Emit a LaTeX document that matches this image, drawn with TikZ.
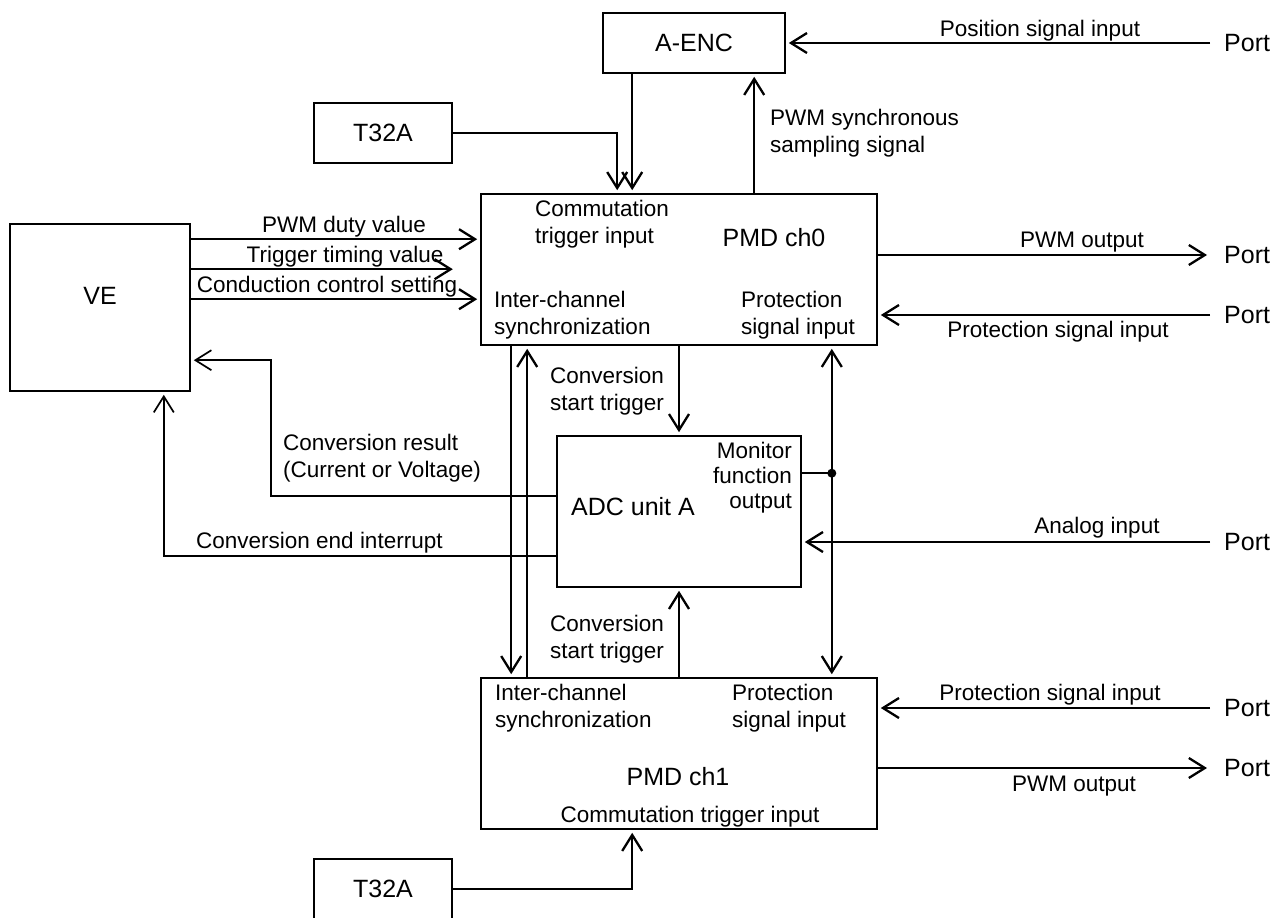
\documentclass[tikz,border=0pt]{standalone}
\usepackage{fontspec}
\setmainfont{Liberation Sans}
\usetikzlibrary{arrows.meta}

\tikzset{
  blk/.style={draw, line width=1.6pt, inner sep=0pt, font=\fontsize{25}{30}\selectfont},
  ttl/.style={inner sep=0pt, font=\fontsize{25}{30}\selectfont},
  lbl/.style={inner sep=0pt, font=\fontsize{22.5}{27}\selectfont},
  port/.style={anchor=west, inner xsep=14pt, inner ysep=0pt, font=\fontsize{25}{30}\selectfont},
  sig/.style={line width=2.3pt, shorten >=3pt, -{Straight Barb[length=16pt,width=20pt]}},
  bisig/.style={line width=2.3pt, shorten >=3pt, shorten <=3pt,
    {Straight Barb[length=16pt,width=20pt]}-{Straight Barb[length=16pt,width=20pt]}},
}

\begin{document}
\begin{tikzpicture}[x=1pt, y=-1pt]
	\useasboundingbox (0,0) rectangle (1274,918);

	% blocks
	\node[blk, minimum width=180pt, minimum height=167pt] (ve) at (100,307.5) {};
	\node[ttl] (vetxt) at (100,296) {VE};
	\node[blk, minimum width=182pt, minimum height=60pt] (aenc) at (694,43) {A-ENC};
	\node[blk, minimum width=138pt, minimum height=60pt] (tmra) at (383,133) {T32A};
	\node[blk, minimum width=138pt, minimum height=60pt] (tmrb) at (383,889) {T32A};
	\node[blk, minimum width=396pt, minimum height=151pt] (pmd0) at (679,269.5) {};
	\node[blk, minimum width=396pt, minimum height=151pt] (pmd1) at (679,753.5) {};
	\node[blk, minimum width=244pt, minimum height=151pt] (adc) at (679,511.5) {};

	\node[ttl] (pmd0txt) at (774,238) {PMD ch0};
	\node[ttl] (pmd1txt) at (678,777) {PMD ch1};
	\node[ttl] (adctxt) at (633,507) {ADC unit A};

	% texts inside the blocks (base = last line)
	\node[lbl, anchor=base west, align=left] (cti0) at (535,243) {Commutation\\trigger input};
	\node[lbl, anchor=base west, align=left] (ics0) at (494,334) {Inter-channel\\synchronization};
	\node[lbl, anchor=base west, align=left] (psi0) at (741,334) {Protection\\signal input};
	\node[lbl, anchor=base west, align=left] (ics1) at (495,727) {Inter-channel\\synchronization};
	\node[lbl, anchor=base west, align=left] (psi1) at (732,727) {Protection\\signal input};
	\node[lbl, anchor=base] (cti1) at (690,822) {Commutation trigger input};
	\node[lbl, anchor=base east, align=right, font=\fontsize{22.5}{25}\selectfont] (mon) at (792,508) {Monitor\\function\\output};

	% ports
	\node[port] (port0) at (1210,43) {Port};
	\node[port] (port1) at (1210,255) {Port};
	\node[port] (port2) at (1210,315) {Port};
	\node[port] (port3) at (1210,542) {Port};
	\node[port] (port4) at (1210,708) {Port};
	\node[port] (port5) at (1210,768) {Port};

	% signal names
	\node[lbl, anchor=base] (possig) at (1040,36) {Position signal input};
	\node[lbl, anchor=base west, align=left] (syncsig) at (770,152) {PWM synchronous\\sampling signal};
	\node[lbl, anchor=base] (pwm0) at (1082,247) {PWM output};
	\node[lbl, anchor=base] (prot0) at (1058,337) {Protection signal input};
	\node[lbl, anchor=base] (analog) at (1097,533) {Analog input};
	\node[lbl, anchor=base] (prot1) at (1050,700) {Protection signal input};
	\node[lbl, anchor=base] (pwm1) at (1074,791) {PWM output};
	\node[lbl, anchor=base] (dutyval) at (344,232) {PWM duty value};
	\node[lbl, anchor=base] (trigval) at (345,262) {Trigger timing value};
	\node[lbl, anchor=base] (condset) at (327,292) {Conduction control setting};
	\node[lbl, anchor=base west, align=left] (cst0) at (550,410) {Conversion\\start trigger};
	\node[lbl, anchor=base west, align=left] (cst1) at (550,658) {Conversion\\start trigger};
	\node[lbl, anchor=base west, align=left] (convres) at (283,477) {Conversion result\\(Current or Voltage)};
	\node[lbl, anchor=base west] (convend) at (196,548) {Conversion end interrupt};

	% A-ENC and timer
	\draw[sig] (port0.west) -- (aenc.east);
	\coordinate (syncx) at ([xshift=274pt]pmd0.north west);
	\draw[sig] (syncx) -- (syncx |- aenc.south);
	\coordinate (encx) at ([xshift=30pt]aenc.south west);
	\draw[sig] (encx) -- (encx |- pmd0.north);
	\coordinate (tmrax) at ([xshift=137pt]pmd0.north west);
	\draw[sig] (tmra.east) -| (tmrax);

	% VE to PMD ch0
	\coordinate (duty) at ([yshift=-16pt]ve.north east);
	\coordinate (trig) at ([yshift=-46pt]ve.north east);
	\coordinate (cond) at ([yshift=-76pt]ve.north east);
	\draw[sig] (duty) -- (duty -| pmd0.west);
	\draw[sig] (trig) -- ++(265,0);
	\draw[sig] (cond) -- (cond -| pmd0.west);

	% PMD ch0 ports
	\draw[sig] (pmd0.east |- port1.west) -- (port1.west);
	\draw[sig] (port2.west) -- (port2.west -| pmd0.east);

	% between the channels
	\coordinate (icdown) at ([xshift=31pt]pmd0.south west);
	\coordinate (icup) at ([xshift=47pt]pmd1.north west);
	\draw[sig] (icdown) -- (icdown |- pmd1.north);
	\draw[sig] (icup) -- (icup |- pmd0.south);
	\draw[sig] (pmd0.south) -- (adc.north);
	\draw[sig] (pmd1.north) -- (adc.south);
	\coordinate (protx) at ([xshift=-46pt]pmd0.south east);
	\coordinate (monout) at ([yshift=-38pt]adc.north east);
	\coordinate (tap) at (protx |- monout);
	\draw[bisig] (protx) -- (protx |- pmd1.north);
	\draw[line width=2.3pt] (monout) -- (tap);
	\fill (tap) circle (4.5pt);
	\draw[sig] (port3.west) -- (port3.west -| adc.east);

	% ADC back to VE
	\coordinate (resout) at ([yshift=-61pt]adc.north west);
	\coordinate (resin) at ([yshift=-137pt]ve.north east);
	\draw[sig, line width=1.7pt] (resout) -| ([xshift=80pt]resin) -- (resin);
	\coordinate (endout) at ([yshift=-121pt]adc.north west);
	\draw[sig, line width=1.7pt] (endout) -| ([xshift=-27pt]ve.south east);

	% PMD ch1 ports and timer
	\draw[sig] (port4.west) -- (port4.west -| pmd1.east);
	\draw[sig] (pmd1.east |- port5.west) -- (port5.west);
	\coordinate (tmrbx) at ([xshift=152pt]pmd1.south west);
	\draw[sig] (tmrb.east) -| (tmrbx);
\end{tikzpicture}
\end{document}
